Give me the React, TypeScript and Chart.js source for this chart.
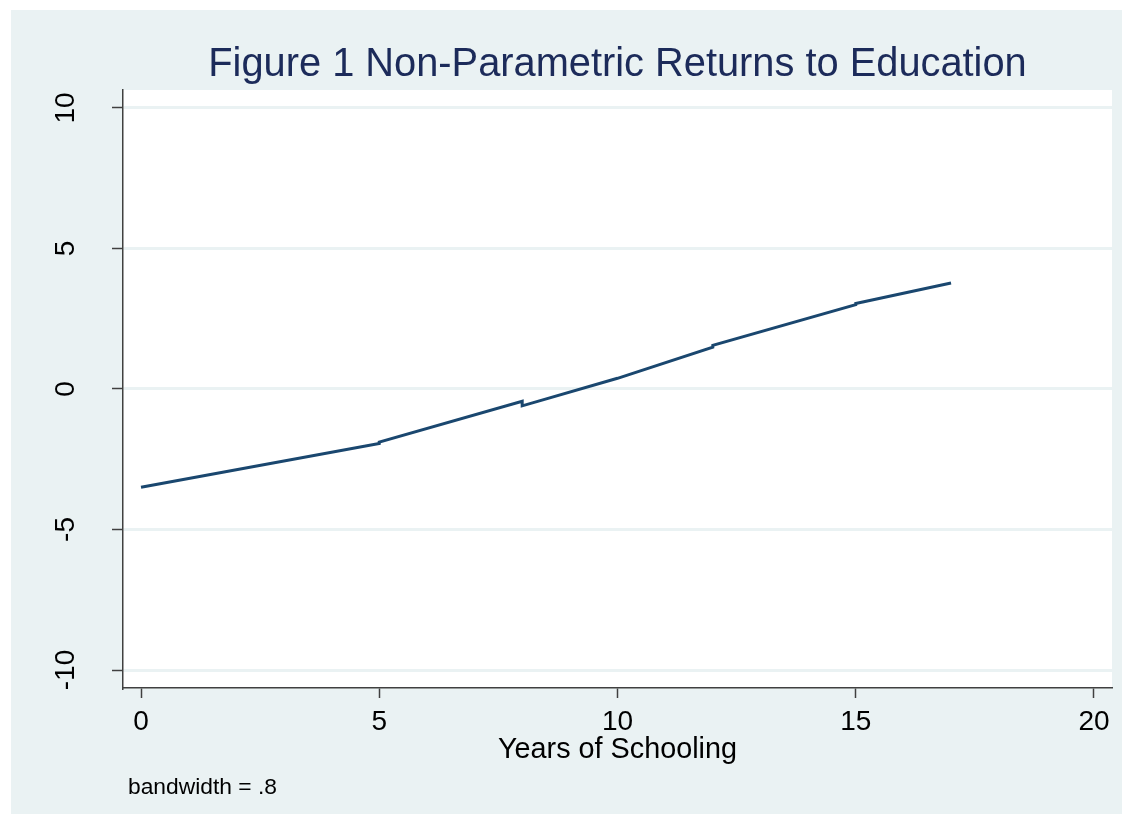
import React, { useEffect, useRef } from 'react';
import { Chart, registerables } from 'chart.js';

Chart.register(...registerables);

const YEARS = [0, 5, 5, 8, 8, 10, 12, 12, 15, 15, 17];
const RETURNS = [-3.5, -1.94, -1.89, -0.44, -0.6, 0.38, 1.49, 1.55, 3.0, 3.04, 3.77];
const X_TICKS = [0, 5, 10, 15, 20];
const Y_TICKS = [-10, -5, 0, 5, 10];
const TITLE = 'Figure 1 Non-Parametric Returns to Education';
const X_TITLE = 'Years of Schooling';
const NOTE = 'bandwidth = .8';

const FONT = "'Liberation Sans', Arial, sans-serif";
const BG = '#EAF2F3';
const AXIS = '#404040';

const bgPlugin = {
  id: 'plotBg',
  beforeDraw(chart: any) {
    const { ctx, chartArea } = chart;
    ctx.save();
    ctx.fillStyle = '#ffffff';
    ctx.fillRect(chartArea.left, chartArea.top, chartArea.right - chartArea.left, chartArea.bottom - chartArea.top);
    ctx.restore();
  },
};

const notePlugin = {
  id: 'note',
  afterDraw(chart: any) {
    const { ctx, chartArea } = chart;
    ctx.save();
    ctx.fillStyle = '#000';
    ctx.font = `22.8px ${FONT}`;
    ctx.textAlign = 'left';
    ctx.textBaseline = 'alphabetic';
    ctx.fillText(NOTE, chartArea.left + 5, 784);
    ctx.restore();
  },
};

export default function App() {
  const ref = useRef<HTMLCanvasElement | null>(null);

  useEffect(() => {
    if (!ref.current) return;
    const chart = new Chart(ref.current, {
      type: 'line',
      data: {
        datasets: [
          {
            data: YEARS.map((x, i) => ({ x, y: RETURNS[i] })),
            borderColor: '#1a476f',
            borderWidth: 3,
            pointRadius: 0,
            tension: 0,
            fill: false,
          },
        ],
      },
      options: {
        animation: false,
        responsive: false,
        devicePixelRatio: 1,
        layout: { padding: { left: 0, right: 10, top: 0, bottom: 47 } },
        plugins: {
          legend: { display: false },
          tooltip: { enabled: false },
          title: {
            display: true,
            text: TITLE,
            color: '#1c2b5a',
            fullSize: false,
            font: { family: FONT, size: 39.8, weight: 'normal', lineHeight: 1.2 },
            padding: { top: 31, bottom: 1.2 },
          },
        },
        scales: {
          x: {
            type: 'linear',
            min: -0.378,
            max: 20.378,
            afterBuildTicks: (s: any) => {
              s.ticks = X_TICKS.map((v) => ({ value: v }));
            },
            afterFit: (s: any) => {
              s.height = 79;
            },
            grid: { drawOnChartArea: false, tickLength: 10, tickColor: AXIS, tickWidth: 1.5 },
            border: { display: true, color: AXIS, width: 1.5 },
            ticks: {
              color: '#000',
              font: { family: FONT, size: 28 },
              padding: 7,
              minRotation: 0,
              maxRotation: 0,
              autoSkip: false,
              callback: (v: any) => String(v),
            },
            title: {
              display: true,
              text: X_TITLE,
              color: '#000',
              font: { family: FONT, size: 28.8, lineHeight: 1.2 },
              padding: { top: 0, bottom: 0 },
            },
          },
          y: {
            type: 'linear',
            min: -10.64,
            max: 10.64,
            afterBuildTicks: (s: any) => {
              s.ticks = Y_TICKS.map((v) => ({ value: v }));
            },
            afterFit: (s: any) => {
              s.width = 112;
            },
            grid: { color: BG, lineWidth: 3, tickLength: 11, tickColor: AXIS, tickWidth: 1.5 },
            border: { display: true, color: AXIS, width: 1.5 },
            ticks: {
              color: '#000',
              font: { family: FONT, size: 28 },
              padding: 25,
              minRotation: 90,
              maxRotation: 90,
              crossAlign: 'center',
              autoSkip: false,
              callback: (v: any) => String(v),
            },
          },
        },
      },
      plugins: [bgPlugin, notePlugin],
    } as any);
    return () => chart.destroy();
  }, []);

  return (
    <div style={{ position: 'absolute', left: 0, top: 0, width: 1122, height: 824, background: '#fff' }}>
      <div style={{ position: 'absolute', left: 11, top: 10, width: 1111, height: 804, background: BG }}>
        <canvas ref={ref} width={1111} height={804} style={{ display: 'block' }} />
      </div>
    </div>
  );
}
